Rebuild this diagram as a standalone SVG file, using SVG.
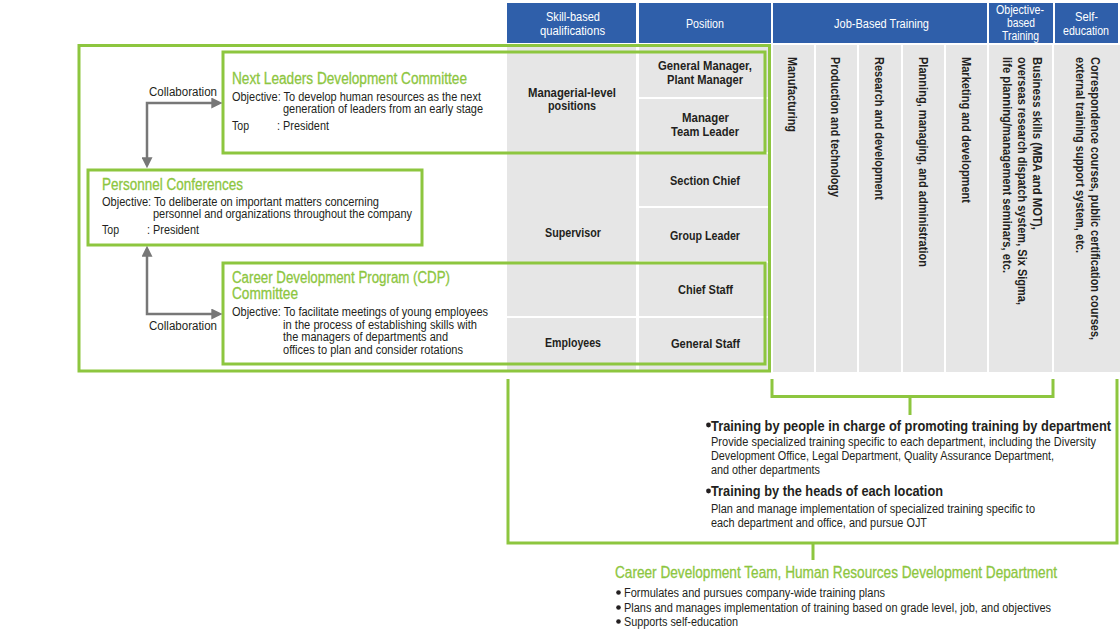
<svg xmlns="http://www.w3.org/2000/svg" width="1120" height="633" viewBox="0 0 1120 633">
<defs>
<style>
text{font-family:"Liberation Sans",Arial,sans-serif;fill:#231f20}
.hd{font-size:12.5px;fill:#fff}
.cell{font-size:12.5px;font-weight:bold}
.vt{font-size:12.5px;font-weight:bold}
.body{font-size:12.5px}
.ttl{font-size:16px;fill:#8dc63f;stroke:#8dc63f;stroke-width:0.3}
.h2{font-size:15.5px;font-weight:bold}
.gb{fill:none;stroke:#8dc63f;stroke-width:3}
.hdr{fill:#2f5faa}
.gray{fill:#e6e6e6}
.conn{fill:none;stroke:#777;stroke-width:2.5}
</style>
<marker id="ah" viewBox="0 0 10 10" refX="7" refY="5" markerWidth="11" markerHeight="11" markerUnits="userSpaceOnUse" orient="auto-start-reverse">
<path d="M0,0 L10,5 L0,10 z" fill="#777"/>
</marker>
</defs>
<rect width="1120" height="633" fill="#fff"/>

<g id="header">
<rect class="hdr" x="507" y="3" width="129" height="40"/>
<rect class="hdr" x="639" y="3" width="132" height="40"/>
<rect class="hdr" x="773" y="3" width="214" height="40"/>
<rect class="hdr" x="989" y="3" width="64" height="40"/>
<rect class="hdr" x="1055" y="3" width="63" height="40"/>
<text class="hd" x="546" y="21" textLength="54" lengthAdjust="spacingAndGlyphs">Skill-based</text>
<text class="hd" x="540" y="35" textLength="65" lengthAdjust="spacingAndGlyphs">qualifications</text>
<text class="hd" x="686" y="28" textLength="38" lengthAdjust="spacingAndGlyphs">Position</text>
<text class="hd" x="834" y="28" textLength="95" lengthAdjust="spacingAndGlyphs">Job-Based Training</text>
<text class="hd" x="996" y="14" textLength="48" lengthAdjust="spacingAndGlyphs">Objective-</text>
<text class="hd" x="1007" y="27" textLength="28" lengthAdjust="spacingAndGlyphs">based</text>
<text class="hd" x="1002" y="40" textLength="37" lengthAdjust="spacingAndGlyphs">Training</text>
<text class="hd" x="1075" y="21" textLength="23" lengthAdjust="spacingAndGlyphs">Self-</text>
<text class="hd" x="1063" y="35" textLength="46" lengthAdjust="spacingAndGlyphs">education</text>
</g>

<g id="table">
<rect class="gray" x="507" y="45" width="129" height="107"/>
<rect class="gray" x="507" y="154" width="129" height="162"/>
<rect class="gray" x="507" y="318" width="129" height="53"/>
<rect class="gray" x="639" y="45" width="130" height="52"/>
<rect class="gray" x="639" y="99" width="130" height="53"/>
<rect class="gray" x="639" y="154" width="130" height="52"/>
<rect class="gray" x="639" y="208" width="130" height="53"/>
<rect class="gray" x="639" y="263" width="130" height="53"/>
<rect class="gray" x="639" y="318" width="130" height="53"/>
<text class="cell" x="658" y="70" textLength="94" lengthAdjust="spacingAndGlyphs">General Manager,</text>
<text class="cell" x="667" y="84" textLength="76" lengthAdjust="spacingAndGlyphs">Plant Manager</text>
<text class="cell" x="528" y="97" textLength="88" lengthAdjust="spacingAndGlyphs">Managerial-level</text>
<text class="cell" x="548" y="110" textLength="48" lengthAdjust="spacingAndGlyphs">positions</text>
<text class="cell" x="682" y="122" textLength="47" lengthAdjust="spacingAndGlyphs">Manager</text>
<text class="cell" x="671" y="136" textLength="68" lengthAdjust="spacingAndGlyphs">Team Leader</text>
<text class="cell" x="670" y="185" textLength="70" lengthAdjust="spacingAndGlyphs">Section Chief</text>
<text class="cell" x="545" y="237" textLength="56" lengthAdjust="spacingAndGlyphs">Supervisor</text>
<text class="cell" x="670" y="240" textLength="70" lengthAdjust="spacingAndGlyphs">Group Leader</text>
<text class="cell" x="678" y="294" textLength="55" lengthAdjust="spacingAndGlyphs">Chief Staff</text>
<text class="cell" x="545" y="347" textLength="56" lengthAdjust="spacingAndGlyphs">Employees</text>
<text class="cell" x="671" y="348" textLength="69" lengthAdjust="spacingAndGlyphs">General Staff</text>
</g>

<g id="training-columns">
<rect class="gray" x="773" y="45" width="41" height="327"/>
<rect class="gray" x="816" y="45" width="41" height="327"/>
<rect class="gray" x="859" y="45" width="42" height="327"/>
<rect class="gray" x="903" y="45" width="41" height="327"/>
<rect class="gray" x="946" y="45" width="41" height="327"/>
<rect class="gray" x="989" y="45" width="63" height="327"/>
<rect class="gray" x="1054" y="45" width="66" height="327"/>
<text class="vt" transform="translate(792,57) rotate(90)" y="4.5" textLength="75" lengthAdjust="spacingAndGlyphs">Manufacturing</text>
<text class="vt" transform="translate(835,57) rotate(90)" y="4.5" textLength="140" lengthAdjust="spacingAndGlyphs">Production and technology</text>
<text class="vt" transform="translate(879,57) rotate(90)" y="4.5" textLength="143" lengthAdjust="spacingAndGlyphs">Research and development</text>
<text class="vt" transform="translate(923,57) rotate(90)" y="4.5" textLength="210" lengthAdjust="spacingAndGlyphs">Planning, managing, and administration</text>
<text class="vt" transform="translate(966,57) rotate(90)" y="4.5" textLength="146" lengthAdjust="spacingAndGlyphs">Marketing and development</text>
<text class="vt" transform="translate(1037,57) rotate(90)" y="4.5" textLength="173" lengthAdjust="spacingAndGlyphs">Business skills (MBA and MOT),</text>
<text class="vt" transform="translate(1022,57) rotate(90)" y="4.5" textLength="248" lengthAdjust="spacingAndGlyphs">overseas research dispatch system, Six Sigma,</text>
<text class="vt" transform="translate(1007,57) rotate(90)" y="4.5" textLength="216" lengthAdjust="spacingAndGlyphs">life planning/management seminars, etc.</text>
<text class="vt" transform="translate(1095,57) rotate(90)" y="4.5" textLength="283" lengthAdjust="spacingAndGlyphs">Correspondence courses, public certification courses,</text>
<text class="vt" transform="translate(1080,57) rotate(90)" y="4.5" textLength="196" lengthAdjust="spacingAndGlyphs">external training support system, etc.</text>
</g>

<g id="hr-frame">
<rect class="gb" x="79" y="45.5" width="690.5" height="325.5"/>
</g>

<g id="next-leaders">
<rect class="gb" x="223" y="52" width="542" height="101"/>
<text class="ttl" x="232" y="84" textLength="235" lengthAdjust="spacingAndGlyphs">Next Leaders Development Committee</text>
<text class="body" x="232" y="101" textLength="249" lengthAdjust="spacingAndGlyphs">Objective: To develop human resources as the next</text>
<text class="body" x="283" y="113" textLength="200" lengthAdjust="spacingAndGlyphs">generation of leaders from an early stage</text>
<text class="body" x="232" y="130" textLength="17" lengthAdjust="spacingAndGlyphs">Top</text>
<text class="body" x="277" y="130" textLength="52" lengthAdjust="spacingAndGlyphs">: President</text>
</g>

<g id="personnel-conferences">
<rect class="gb" x="88" y="170" width="334" height="75"/>
<text class="ttl" x="102" y="190" textLength="141" lengthAdjust="spacingAndGlyphs">Personnel Conferences</text>
<text class="body" x="102" y="206" textLength="277" lengthAdjust="spacingAndGlyphs">Objective: To deliberate on important matters concerning</text>
<text class="body" x="153" y="218" textLength="259" lengthAdjust="spacingAndGlyphs">personnel and organizations throughout the company</text>
<text class="body" x="102" y="234" textLength="17" lengthAdjust="spacingAndGlyphs">Top</text>
<text class="body" x="147" y="234" textLength="52" lengthAdjust="spacingAndGlyphs">: President</text>
</g>

<g id="cdp-committee">
<rect class="gb" x="223" y="263" width="542" height="101"/>
<text class="ttl" x="232" y="283" textLength="218" lengthAdjust="spacingAndGlyphs">Career Development Program (CDP)</text>
<text class="ttl" x="232" y="299" textLength="66" lengthAdjust="spacingAndGlyphs">Committee</text>
<text class="body" x="232" y="316" textLength="256" lengthAdjust="spacingAndGlyphs">Objective: To facilitate meetings of young employees</text>
<text class="body" x="283" y="328.5" textLength="194" lengthAdjust="spacingAndGlyphs">in the process of establishing skills with</text>
<text class="body" x="283" y="341" textLength="165" lengthAdjust="spacingAndGlyphs">the managers of departments and</text>
<text class="body" x="283" y="353.5" textLength="180" lengthAdjust="spacingAndGlyphs">offices to plan and consider rotations</text>
</g>

<g id="connectors">
<path class="conn" d="M147,165 V103 H219" marker-start="url(#ah)" marker-end="url(#ah)"/>
<path class="conn" d="M147,249 V314 H219" marker-start="url(#ah)" marker-end="url(#ah)"/>
<text class="body" x="149" y="96" textLength="68" lengthAdjust="spacingAndGlyphs">Collaboration</text>
<text class="body" x="149" y="330" textLength="68" lengthAdjust="spacingAndGlyphs">Collaboration</text>
<path class="gb" d="M772,379 V396.5 H1053 V379 M910,396.5 V415"/>
<path class="gb" d="M508,379 V543 H1117 V379 M813,543 V560"/>
</g>

<g id="department-training">
<circle cx="708.5" cy="425" r="2.4" fill="#231f20"/>
<text class="h2" transform="translate(711,430.5) scale(0.83,1)" textLength="482" lengthAdjust="spacingAndGlyphs">Training by people in charge of promoting training by department</text>
<text class="body" transform="translate(711,446) scale(0.875,1)" textLength="440" lengthAdjust="spacingAndGlyphs">Provide specialized training specific to each department, including the Diversity</text>
<text class="body" x="711" y="460" textLength="343" lengthAdjust="spacingAndGlyphs">Development Office, Legal Department, Quality Assurance Department,</text>
<text class="body" x="711" y="474" textLength="109" lengthAdjust="spacingAndGlyphs">and other departments</text>
<circle cx="708.5" cy="491" r="2.4" fill="#231f20"/>
<text class="h2" x="711" y="496" textLength="232" lengthAdjust="spacingAndGlyphs">Training by the heads of each location</text>
<text class="body" x="711" y="512.5" textLength="324" lengthAdjust="spacingAndGlyphs">Plan and manage implementation of specialized training specific to</text>
<text class="body" x="711" y="526.5" textLength="216" lengthAdjust="spacingAndGlyphs">each department and office, and pursue OJT</text>
</g>

<g id="career-development-team">
<text class="ttl" transform="translate(615,578) scale(0.85,1)" textLength="520" lengthAdjust="spacingAndGlyphs">Career Development Team, Human Resources Development Department</text>
<circle cx="618.5" cy="592.5" r="2.3" fill="#231f20"/>
<text class="body" x="624" y="597" textLength="261" lengthAdjust="spacingAndGlyphs">Formulates and pursues company-wide training plans</text>
<circle cx="618.5" cy="607.5" r="2.3" fill="#231f20"/>
<text class="body" x="624" y="612" textLength="427" lengthAdjust="spacingAndGlyphs">Plans and manages implementation of training based on grade level, job, and objectives</text>
<circle cx="618.5" cy="621.5" r="2.3" fill="#231f20"/>
<text class="body" x="624" y="626" textLength="114" lengthAdjust="spacingAndGlyphs">Supports self-education</text>
</g>
</svg>
